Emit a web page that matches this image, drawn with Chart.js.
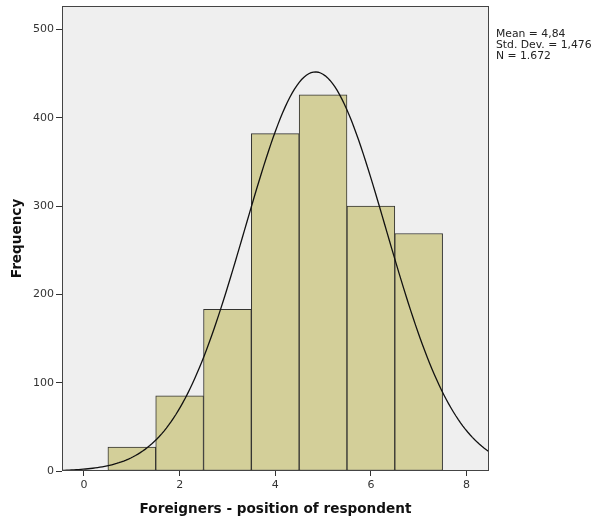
<!DOCTYPE html>
<html>
<head>
<meta charset="utf-8">
<script src="https://cdn.jsdelivr.net/npm/chart.js@4/dist/chart.umd.min.js"></script>
<style>
  html, body { margin: 0; padding: 0; background: #ffffff; }
  #wrap { width: 597px; height: 524px; position: relative; }
</style>
</head>
<body>
<div id="wrap"><canvas id="c" width="597" height="524"></canvas></div>
<script>
// Histogram bins (centre of each bin) and their frequencies
const binCenters = [1, 2, 3, 4, 5, 6, 7];
const frequencies = [27, 85, 183, 382, 426, 300, 269];

// Summary statistics shown beside the plot
const MEAN = 4.84;
const SD = 1.476;
const N = 1672;
const statsLines = ['Mean = 4,84', 'Std. Dev. = 1,476', 'N = 1.672'];

// Axis settings
const X_MIN = -0.46, X_MAX = 8.47;
const xTickValues = [0, 2, 4, 6, 8];
const Y_MAX = 526.6;
const yTickValues = [0, 100, 200, 300, 400, 500];

const xTitle = 'Foreigners - position of respondent';
const yTitle = 'Frequency';

// Fitted normal curve (bin width 1), scaled to the frequency axis
const curveX = [];
for (let i = 0; i <= 180; i++) curveX.push(X_MIN + (X_MAX - X_MIN) * i / 180);
const curvePoints = curveX.map(x => ({
  x: x,
  y: N / (SD * Math.sqrt(2 * Math.PI)) * Math.exp(-0.5 * Math.pow((x - MEAN) / SD, 2))
}));

const barPoints = binCenters.map((x, i) => ({ x: x, y: frequencies[i] }));

const plotFrame = {
  id: 'plotFrame',
  beforeDatasetsDraw(chart) {
    const { ctx, chartArea: a } = chart;
    ctx.save();
    ctx.fillStyle = '#efefef';
    ctx.fillRect(a.left, a.top, a.right - a.left, a.bottom - a.top);
    ctx.restore();
  },
  afterDatasetsDraw(chart) {
    const { ctx, chartArea: a } = chart;
    ctx.save();
    ctx.strokeStyle = '#444444';
    ctx.lineWidth = 1;
    ctx.strokeRect(Math.round(a.left) + 0.5, Math.round(a.top) + 0.5,
                   Math.round(a.right - a.left) - 1, Math.round(a.bottom - a.top) - 1);
    ctx.restore();
  },
  afterDraw(chart) {
    const { ctx, chartArea: a } = chart;
    ctx.save();
    ctx.fillStyle = '#222222';
    ctx.font = '10.8px "DejaVu Sans"';
    ctx.textBaseline = 'middle';
    statsLines.forEach((t, i) => ctx.fillText(t, a.right + 7, 34 + i * 11));
    ctx.restore();
  }
};

const keepTicks = (values) => (scale) => {
  scale.ticks = values.map(v => ({ value: v }));
};

new Chart(document.getElementById('c'), {
  data: {
    datasets: [
      {
        type: 'line',
        data: curvePoints,
        borderColor: '#111111',
        borderWidth: 1.3,
        pointRadius: 0,
        tension: 0,
        fill: false,
        order: 0
      },
      {
        type: 'bar',
        data: barPoints,
        backgroundColor: '#d3cf99',
        borderColor: '#333330',
        borderWidth: 1,
        borderSkipped: false,
        barPercentage: 1,
        categoryPercentage: 1,
        order: 1
      }
    ]
  },
  options: {
    responsive: false,
    animation: false,
    events: [],
    layout: { padding: { top: 6, right: 108, left: 0, bottom: 0 } },
    plugins: { legend: { display: false }, tooltip: { enabled: false } },
    scales: {
      x: {
        type: 'linear',
        min: X_MIN,
        max: X_MAX,
        offset: false,
        afterBuildTicks: keepTicks(xTickValues),
        afterFit(scale) {
          scale.height = 53;
          scale.paddingLeft = 0; scale.paddingRight = 0;
        },
        grid: { offset: false, drawOnChartArea: false, drawTicks: true, tickLength: 5, color: '#333333' },
        border: { display: false },
        ticks: { color: '#333333', font: { family: 'DejaVu Sans', size: 11 }, padding: 3, maxRotation: 0 },
        title: {
          display: true, text: xTitle, color: '#111111',
          font: { family: 'DejaVu Sans', size: 13.6, weight: 'bold' },
          padding: { top: 0, bottom: 6 }
        }
      },
      y: {
        type: 'linear',
        min: 0,
        max: Y_MAX,
        afterBuildTicks: keepTicks(yTickValues),
        afterFit(scale) {
          scale.width = 62;
          scale.paddingTop = 0; scale.paddingBottom = 0;
        },
        grid: { drawOnChartArea: false, drawTicks: true, tickLength: 6, color: '#333333' },
        border: { display: false },
        ticks: { color: '#333333', font: { family: 'DejaVu Sans', size: 11 }, padding: 2 },
        title: {
          display: true, text: yTitle, color: '#111111',
          font: { family: 'DejaVu Sans', size: 13.6, weight: 'bold' },
          padding: { top: 9, bottom: 0 }
        }
      }
    }
  },
  plugins: [plotFrame]
});
</script>
</body>
</html>
